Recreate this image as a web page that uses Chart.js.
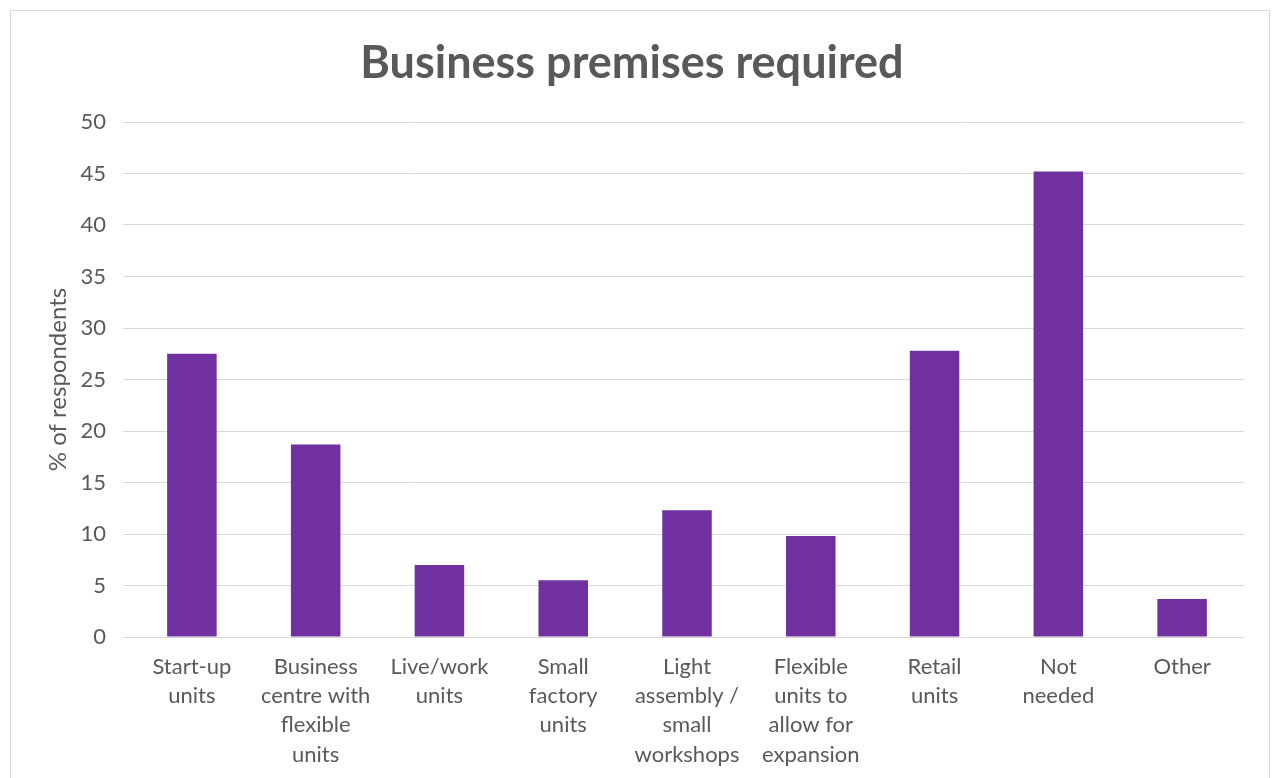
<!DOCTYPE html>
<html>
<head>
<meta charset="utf-8">
<title>Business premises required</title>
<script src="https://cdn.jsdelivr.net/npm/chart.js@4.4.1/dist/chart.umd.min.js"></script>
<style>
  html, body { margin: 0; padding: 0; background: #fff; overflow: hidden; }
  .chart-container { position: relative; width: 1272px; height: 778px; }
</style>
</head>
<body>
<div class="chart-container">
  <canvas id="barChart"></canvas>
</div>
<script>
var premises = [
  ['Start-up', 'units'],
  ['Business', 'centre with', 'flexible', 'units'],
  ['Live/work', 'units'],
  ['Small', 'factory', 'units'],
  ['Light', 'assembly /', 'small', 'workshops'],
  ['Flexible', 'units to', 'allow for', 'expansion'],
  ['Retail', 'units'],
  ['Not', 'needed'],
  ['Other']
];
var respondents = [27.5, 18.7, 7.0, 5.5, 12.3, 9.8, 27.8, 45.2, 3.7];

var textColor = '#595959';
var gridColor = '#d9d9d9';

Chart.defaults.font.family = 'Lato, "Open Sans", sans-serif';
Chart.defaults.color = textColor;

// light grey frame around the whole chart
var frame = {
  id: 'frame',
  beforeDraw: function (chart) {
    var c = chart.ctx;
    c.save();
    c.fillStyle = '#fff';
    c.fillRect(0, 0, chart.width, chart.height);
    c.strokeStyle = gridColor;
    c.lineWidth = 1;
    c.strokeRect(10.5, 10.5, 1259, 820);
    c.restore();
  }
};

var ctx = document.getElementById('barChart');
var barChart = new Chart(ctx, {
  type: 'bar',
  data: {
    labels: premises,
    datasets: [{
      label: '% of respondents',
      data: respondents,
      backgroundColor: '#7030A0',
      barPercentage: 0.4,
      categoryPercentage: 1.0
    }]
  },
  options: {
    responsive: true,
    maintainAspectRatio: false,
    animation: false,
    layout: {
      padding: { left: 20, right: 28, top: 0, bottom: 9 }
    },
    plugins: {
      legend: { display: false },
      tooltip: { enabled: false },
      title: {
        display: true,
        text: 'Business premises required',
        color: textColor,
        font: { size: 45, weight: 'bold' },
        padding: { top: 36, bottom: 32 }
      }
    },
    scales: {
      x: {
        grid: { display: false, drawTicks: false },
        border: { display: false },
        ticks: {
          color: textColor,
          font: { size: 22, lineHeight: 1.33 },
          padding: 15,
          maxRotation: 0,
          minRotation: 0,
          autoSkip: false
        },
        afterFit: function (scale) {
          scale.height = 132;
        }
      },
      y: {
        min: 0,
        max: 50,
        grid: { color: gridColor, lineWidth: 1, drawTicks: true, tickLength: 7 },
        border: { display: false },
        ticks: {
          stepSize: 5,
          color: textColor,
          font: { size: 22 },
          padding: 17
        },
        title: {
          display: true,
          text: '% of respondents',
          color: textColor,
          font: { size: 24 },
          padding: { top: 24, bottom: 0 }
        },
        afterFit: function (scale) {
          scale.width = 110;
        }
      }
    }
  },
  plugins: [frame]
});
</script>
</body>
</html>
